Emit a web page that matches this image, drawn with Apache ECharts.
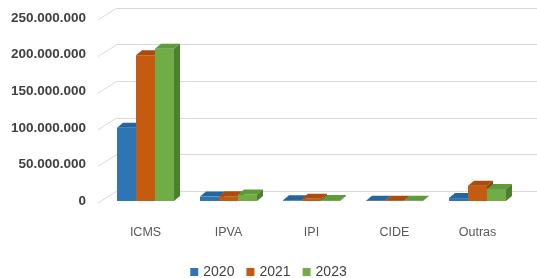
<!DOCTYPE html>
<html>
<head>
<meta charset="utf-8">
<script src="https://cdn.jsdelivr.net/npm/echarts@6/dist/echarts.min.js"></script>
<style>
  html, body { margin: 0; padding: 0; background: #fff; }
  #chart { width: 537px; height: 278px; }
</style>
</head>
<body>
<div id="chart"></div>
<script>
// dados
var categorias = ['ICMS', 'IPVA', 'IPI', 'CIDE', 'Outras'];
var anos = ['2020', '2021', '2023'];
var v2020 = [100000000, 6000000, 1000000, 500000, 4000000];
var v2021 = [199000000, 6500000, 3000000, 500000, 21000000];
var v2023 = [208000000, 9000000, 1500000, 500000, 16500000];
var yTicks = [0, 50000000, 100000000, 150000000, 200000000, 250000000];

var cores = ['#2E75B6', '#C55A11', '#70AD47'];
var lados = ['#1F568C', '#93400A', '#4E7F31'];
var topos = ['#27659F', '#A94C0E', '#5F9A3B'];

function fmt(v) {
  return String(v).replace(/\B(?=(\d{3})+(?!\d))/g, '.');
}

var myChart = echarts.init(document.getElementById('chart'));

var BAR_W = 19, DX = 6, DY = -5;

function barRender(idx) {
  return function (params, api) {
    var cat = api.value(0);
    var val = api.value(1);
    var base = api.coord([cat, 0]);
    var top = api.coord([cat, val]);
    var x0 = base[0] - BAR_W * 1.5 + idx * BAR_W;
    var x1 = x0 + BAR_W;
    var yb = base[1], yt = top[1];
    return {
      type: 'group',
      children: [
        { type: 'rect', shape: { x: x0, y: yt, width: BAR_W, height: yb - yt },
          style: { fill: cores[idx] } },
        { type: 'polygon', shape: { points: [[x0, yt], [x0 + DX, yt + DY], [x1 + DX, yt + DY], [x1, yt]] },
          style: { fill: topos[idx] } },
        { type: 'polygon', shape: { points: [[x1, yt], [x1 + DX, yt + DY], [x1 + DX, yb + DY], [x1, yb]] },
          style: { fill: lados[idx] } }
      ]
    };
  };
}

function serie(idx, valores) {
  return {
    name: anos[idx],
    type: 'custom',
    xAxisIndex: 0,
    yAxisIndex: 0,
    z: 5,
    itemStyle: { color: cores[idx] },
    renderItem: barRender(idx),
    data: valores.map(function (v, i) { return [i, v]; })
  };
}

var option = {
  animation: false,
  legend: {
    data: anos,
    top: 260,
    left: 'center',
    icon: 'rect',
    itemWidth: 8,
    itemHeight: 8,
    itemGap: 12,
    textStyle: { fontSize: 14, color: '#404040', fontFamily: 'Liberation Sans' }
  },
  grid: [
    { left: 104, right: 18, top: 18, bottom: 77 },
    { left: 117, right: 0, top: 8, bottom: 87 }
  ],
  xAxis: [
    {
      type: 'category', gridIndex: 0, data: categorias,
      axisLine: { show: false }, axisTick: { show: false },
      axisLabel: { margin: 25, fontSize: 12.5, color: '#595959', fontFamily: 'Liberation Sans' }
    },
    {
      type: 'category', gridIndex: 1, data: categorias, show: false
    }
  ],
  yAxis: [
    {
      type: 'value', gridIndex: 0, min: 0, max: 250000000, interval: 50000000,
      splitLine: { show: false },
      axisLabel: {
        margin: 18, fontSize: 13.5, fontWeight: 'bold', color: '#404040',
        fontFamily: 'Liberation Sans', formatter: fmt
      }
    },
    {
      type: 'value', gridIndex: 1, min: 0, max: 250000000, interval: 50000000,
      axisLabel: { show: false },
      splitLine: { lineStyle: { color: '#D9D9D9', width: 1 } }
    }
  ],
  series: [
    {
      type: 'custom',
      xAxisIndex: 0,
      yAxisIndex: 0,
      silent: true,
      z: 1,
      renderItem: function (params, api) {
        var p = api.coord([0, api.value(0)]);
        var x = params.coordSys.x - 6;
        return {
          type: 'line',
          shape: { x1: x, y1: p[1] + 2, x2: x + 19, y2: p[1] - 10 },
          style: { stroke: '#D9D9D9', lineWidth: 1 }
        };
      },
      data: yTicks.map(function (t) { return [t]; })
    },
    serie(0, v2020),
    serie(1, v2021),
    serie(2, v2023)
  ]
};

myChart.setOption(option);
</script>
</body>
</html>
